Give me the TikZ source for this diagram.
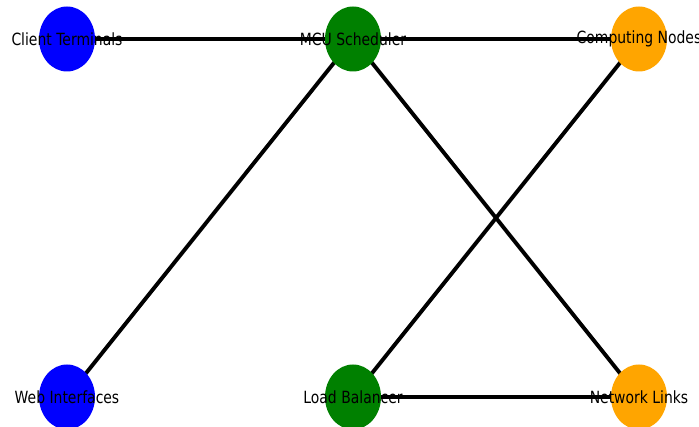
\documentclass[tikz,border=0pt]{standalone}
\usepackage{fontspec}
\setmainfont{DejaVu Sans}
\newfontfamily\lblfont[FakeStretch=0.83]{DejaVu Sans}
\usetikzlibrary{shapes.geometric}
\definecolor{nblue}{RGB}{0,0,255}
\definecolor{ngreen}{RGB}{0,128,0}
\definecolor{norange}{RGB}{255,165,0}
\begin{document}
\begin{tikzpicture}[x=1pt,y=1pt,
  vert/.style={ellipse,minimum width=56pt,minimum height=65pt,inner sep=0pt,draw=none},
  lbl/.style={font=\lblfont\fontsize{16.8}{18}\selectfont,text=black,inner sep=0pt},
  edge/.style={line width=3.9pt,black}]
\clip (0,0) rectangle (699,427);
\useasboundingbox (0,0) rectangle (699,427);
\coordinate (pc) at (67,388);
\coordinate (pm) at (353,388);
\coordinate (pn) at (639,388);
\coordinate (pw) at (67,30);
\coordinate (pl) at (353,30);
\coordinate (pk) at (639,30);
\draw[edge] (pc) -- (pm);
\draw[edge] (pm) -- (pn);
\draw[edge] (pm) -- (pw);
\draw[edge] (pm) -- (pk);
\draw[edge] (pn) -- (pl);
\draw[edge] (pl) -- (pk);
\node[vert,fill=nblue] (c) at (pc) {};
\node[vert,fill=ngreen] (m) at (pm) {};
\node[vert,fill=norange] (n) at (pn) {};
\node[vert,fill=nblue] (w) at (pw) {};
\node[vert,fill=ngreen] (l) at (pl) {};
\node[vert,fill=norange] (k) at (pk) {};
\node[lbl] (tc) at (c.center) {Client Terminals};
\node[lbl] (tm) at (m.center) {MCU Scheduler};
\node[lbl] (tn) at (n.center) {Computing Nodes};
\node[lbl] (tw) at (w.center) {Web Interfaces};
\node[lbl] (tl) at (l.center) {Load Balancer};
\node[lbl] (tk) at (k.center) {Network Links};
\end{tikzpicture}
\end{document}
